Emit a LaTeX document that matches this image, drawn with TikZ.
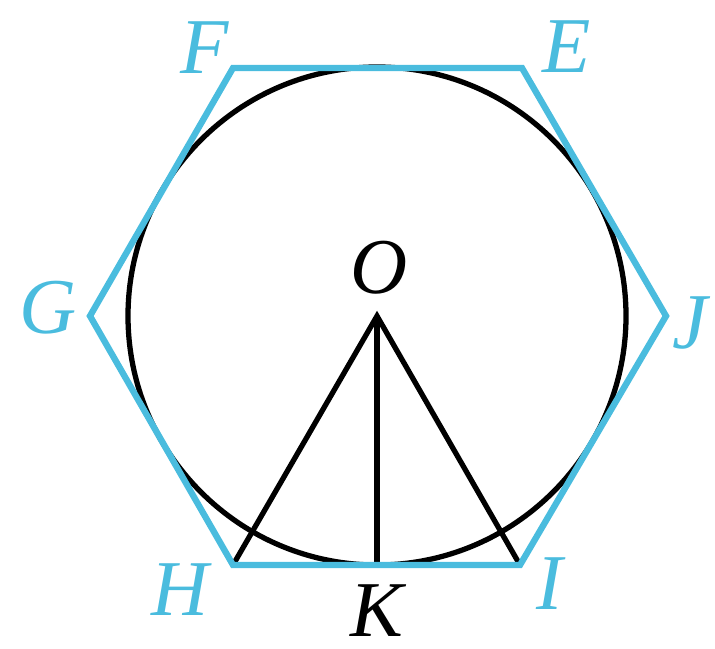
\documentclass[tikz,border=0pt]{standalone}
\usepackage{fontspec}
\setmainfont{Liberation Serif}
\definecolor{hexcyan}{RGB}{74,188,222}
\begin{document}
\begin{tikzpicture}[x=0.02cm,y=-0.02cm,
  hexline/.style={draw=hexcyan,line width=3.6pt,line join=miter},
  blk/.style={draw=black,line width=3pt},
  lab/.style={font=\fontsize{45}{45}\selectfont\itshape,inner sep=0pt},
  clab/.style={lab,text=hexcyan}]
\useasboundingbox (0,0) rectangle (715,648);
\coordinate (F) at (233,68);
\coordinate (E) at (522,68);
\coordinate (J) at (666,316);
\coordinate (I) at (520,565);
\coordinate (H) at (233,565);
\coordinate (G) at (90,316);
\coordinate (O) at (377,316);
\coordinate (K) at (377,565);
\draw[blk] (O) circle (249);
\draw[blk] (H) -- (O) -- (I);
\draw[blk] (O) -- (K);
\draw[hexline] (F) -- (E) -- (J) -- (I) -- (H) -- (G) -- cycle;
\node[clab] (lF) at (205,48) {F};
\node[clab] (lE) at (567,47) {E};
\node[clab] (lG) at (48,308) {G};
\node[clab] (lJ) at (690,323) {J};
\node[clab] (lH) at (180,590) {H};
\node[clab] (lI) at (550,584) {I};
\node[lab] (lK) at (377,611) {K};
\node[lab] (lO) at (379,268) {O};
\end{tikzpicture}
\end{document}
